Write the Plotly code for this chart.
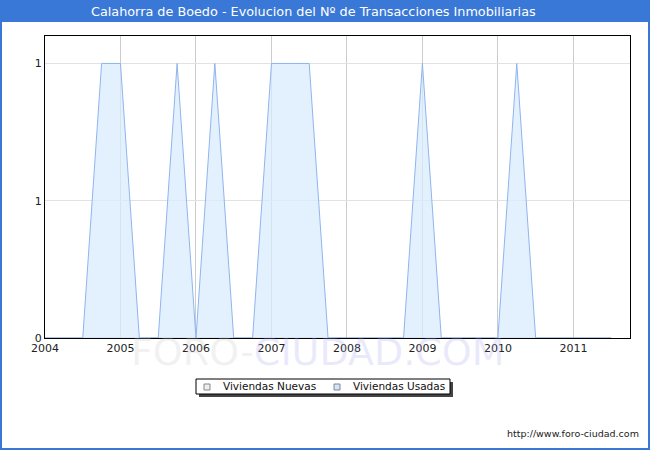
import plotly.graph_objects as go

# Quarterly periods (decimal years)
periods = [2004.0, 2004.25, 2004.5, 2004.75, 2005.0, 2005.25, 2005.5, 2005.75,
           2006.0, 2006.25, 2006.5, 2006.75, 2007.0, 2007.25, 2007.5, 2007.75,
           2008.0, 2008.25, 2008.5, 2008.75, 2009.0, 2009.25, 2009.5, 2009.75,
           2010.0, 2010.25, 2010.5, 2010.75, 2011.0, 2011.25, 2011.5]
viviendas_nuevas = [0] * len(periods)
viviendas_usadas = [0, 0, 0, 1, 1, 0, 0, 1,
                    0, 1, 0, 0, 1, 1, 1, 0,
                    0, 0, 0, 0, 1, 0, 0, 0,
                    0, 1, 0, 0, 0, 0, 0]
year_ticks = [2004, 2005, 2006, 2007, 2008, 2009, 2010, 2011]
y_tickvals = [0, 0.5, 1]
y_ticktext = ["0", "1", "1"]
series_names = ["Viviendas Nuevas", "Viviendas Usadas"]

title = "Calahorra de Boedo - Evolucion del Nº de Transacciones Inmobiliarias"
font = "DejaVu Sans"

fig = go.Figure()
fig.add_trace(go.Scatter(x=periods, y=viviendas_nuevas, mode="lines", name=series_names[0],
                         line=dict(color="#a0a0a0", width=1),
                         fill="tozeroy", fillcolor="rgba(230,230,230,0.6)",
                         showlegend=False, hoverinfo="skip"))
fig.add_trace(go.Scatter(x=periods, y=viviendas_usadas, mode="lines", name=series_names[1],
                         line=dict(color="#8fb4ee", width=1),
                         fill="tozeroy", fillcolor="rgba(218,236,255,0.75)",
                         showlegend=False, hoverinfo="skip"))

W, H = 650, 450
ml, mr, mt, mb = 45, 20, 36, 112
pw, ph = W - ml - mr, H - mt - mb

def px_x(p):
    return (p - ml) / pw

def px_y(p):
    return (H - mb - p) / ph

def rect(x0, y0, x1, y1, fill, line_color=None, lw=0, layer="above"):
    return dict(type="rect", xref="paper", yref="paper",
                x0=px_x(x0), x1=px_x(x1), y0=px_y(y1), y1=px_y(y0),
                fillcolor=fill, line=dict(color=line_color or "rgba(0,0,0,0)", width=lw), layer=layer)

shapes = [
    rect(0, 0, W, 22, "#3a78d8", layer="below"),                       # title bar
    rect(1, 1, W - 1, H - 1, "rgba(0,0,0,0)", "#3a78d8", 2),           # outer border
    rect(199, 382, 453, 397, "#444444"),                                # legend shadow
    rect(196, 379, 450, 394, "#ffffff", "#000000", 1),                  # legend box
    rect(204, 384, 210, 390, "#eeeeee", "#888888", 1),                  # legend key 1
    rect(334, 384, 340, 390, "#cfe5fb", "#888888", 1),                  # legend key 2
]

annotations = [
    dict(text=title, xref="paper", yref="paper", x=px_x(313), y=px_y(11.5), showarrow=False,
         font=dict(family=font, size=12.8, color="white"), xanchor="center", yanchor="middle"),
    dict(text="http://www.foro-ciudad.com", xref="paper", yref="paper", x=px_x(641), y=px_y(433),
         showarrow=False, font=dict(family=font, size=9.5, color="#222222"), xanchor="right", yanchor="middle"),
    dict(text="<span style='color:rgba(200,200,200,0.25)'>FORO-</span><span style='color:rgba(170,170,240,0.25)'>CIUDAD.COM</span>",
         xref="paper", yref="paper", x=px_x(318), y=px_y(352), showarrow=False,
         font=dict(family=font, size=38), xanchor="center", yanchor="middle"),
    dict(text=series_names[0], xref="paper", yref="paper", x=px_x(221), y=px_y(386.5), showarrow=False,
         font=dict(family=font, size=10.5, color="#111111"), xanchor="left", yanchor="middle"),
    dict(text=series_names[1], xref="paper", yref="paper", x=px_x(351), y=px_y(386.5), showarrow=False,
         font=dict(family=font, size=10.5, color="#111111"), xanchor="left", yanchor="middle"),
]

fig.update_layout(
    width=W, height=H,
    margin=dict(l=ml, r=mr, t=mt, b=mb),
    paper_bgcolor="white", plot_bgcolor="white",
    font=dict(family=font, size=11, color="#222222"),
    shapes=shapes, annotations=annotations,
    showlegend=False,
    xaxis=dict(range=[2004, 2011.75], tickvals=year_ticks, ticktext=[str(y) for y in year_ticks],
               showgrid=True, gridcolor="#cccccc", gridwidth=1, zeroline=False,
               showline=True, linecolor="black", linewidth=1, mirror=True, ticks="", ticklen=0,
               tickfont=dict(family=font, size=11)),
    yaxis=dict(range=[0, 1.1], tickvals=y_tickvals, ticktext=y_ticktext,
               showgrid=True, gridcolor="#e2e2e2", gridwidth=1, zeroline=False,
               showline=True, linecolor="black", linewidth=1, mirror=True, ticks="",
               tickfont=dict(family=font, size=11)),
)

fig.write_html("out.html", config={"displayModeBar": False},
               post_script="document.body.style.margin='0';document.body.style.padding='0';")
